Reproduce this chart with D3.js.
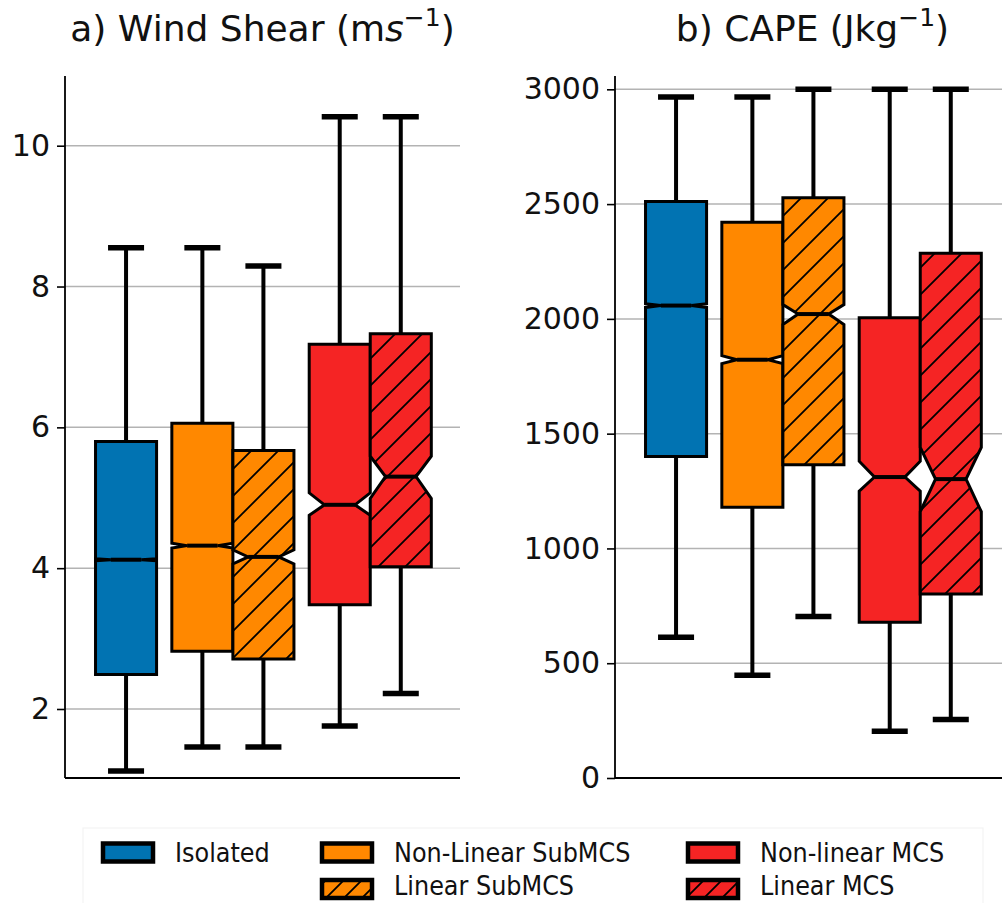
<!DOCTYPE html>
<html>
<head>
<meta charset="utf-8">
<script src="https://cdn.jsdelivr.net/npm/d3@7"></script>
<style>
  html, body { margin: 0; padding: 0; background: #fff; }
  svg { display: block; font-family: "DejaVu Sans", sans-serif; }
  .tick text { font-size: 30px; fill: #111; }
  .legend text { font-family: "DejaVu Sans Condensed", "DejaVu Sans", sans-serif; font-stretch: condensed; font-size: 26.6px; fill: #111; }
</style>
</head>
<body>
<script>
// Storm categories and their styling
const categories = ["Isolated", "Non-Linear SubMCS", "Linear SubMCS", "Non-linear MCS", "Linear MCS"];
const legendLabels = ["Isolated", "Non-Linear SubMCS", "Linear SubMCS", "Non-linear MCS", "Linear MCS"];
const fillColors = ["#0173b2", "#ff8800", "#ff8800", "#f52424", "#f52424"];
const hatched = [false, false, true, false, true];
const clusters = [[0], [1, 2], [3, 4]];

// a) Wind shear (m s^-1) box statistics
const shearWhiskerLow  = [1.12, 1.46, 1.46, 1.76, 2.22];
const shearQ1          = [2.49, 2.82, 2.71, 3.48, 4.02];
const shearMedian      = [4.12, 4.32, 4.16, 4.90, 5.30];
const shearQ3          = [5.80, 6.06, 5.67, 7.18, 7.33];
const shearWhiskerHigh = [8.55, 8.55, 8.29, 10.41, 10.41];
const shearNotchLow    = [4.105, 4.285, 4.06, 4.75, 4.99];
const shearNotchHigh   = [4.135, 4.355, 4.26, 5.07, 5.59];
const shearTicks = [2, 4, 6, 8, 10];

// b) CAPE (J kg^-1) box statistics
const capeWhiskerLow  = [613, 448, 704, 204, 255];
const capeQ1          = [1401, 1179, 1365, 678, 802];
const capeMedian      = [2058, 1822, 2021, 1311, 1302];
const capeQ3          = [2511, 2421, 2528, 2005, 2286];
const capeWhiskerHigh = [2966, 2966, 3000, 3000, 3000];
const capeNotchLow    = [2050, 1805, 1975, 1250, 1160];
const capeNotchHigh   = [2066, 1840, 2062, 1380, 1440];
const capeTicks = [0, 500, 1000, 1500, 2000, 2500, 3000];

const W = 1002, H = 903;
const svg = d3.select("body").append("svg").attr("width", W).attr("height", H);
svg.append("rect").attr("width", W).attr("height", H).attr("fill", "#fff");

// diagonal hatch pattern
const defs = svg.append("defs");
const hs = 27;
const pat = defs.append("pattern").attr("id", "hatch")
  .attr("patternUnits", "userSpaceOnUse").attr("width", hs).attr("height", hs);
pat.append("path")
  .attr("d", `M0,${hs} L${hs},0 M${-hs / 2},${hs / 2} L${hs / 2},${-hs / 2} M${hs / 2},${hs * 1.5} L${hs * 1.5},${hs / 2}`)
  .attr("stroke", "#000").attr("stroke-width", 1.8);
const patL = defs.append("pattern").attr("id", "hatchLegend")
  .attr("patternUnits", "userSpaceOnUse").attr("width", 18).attr("height", 18);
patL.append("path")
  .attr("d", "M0,18 L18,0 M-9,9 L9,-9 M9,27 L27,9")
  .attr("stroke", "#000").attr("stroke-width", 1.8);

// box positions: adjacent boxes inside a cluster, a small gap between clusters
const positions = [];
{
  let p = 0;
  clusters.forEach((c, ci) => {
    if (ci > 0) p += 0.25;
    c.forEach(() => { positions.push(p); p += 1; });
  });
}

function drawPanel(opts) {
  const { left, right, top, bottom, yDomain, ticks, title, stats } = opts;
  const g = svg.append("g");
  const x = d3.scaleLinear().domain([-1, 5.47]).range([left, right]);
  const y = d3.scaleLinear().domain(yDomain).range([bottom, top]);
  const clipId = "clip" + Math.round(left);
  defs.append("clipPath").attr("id", clipId).append("rect")
    .attr("x", left).attr("y", 0).attr("width", right - left).attr("height", H);

  // grid
  g.append("g").selectAll("line").data(ticks).join("line")
    .attr("x1", left).attr("x2", Math.min(right, W))
    .attr("y1", d => y(d)).attr("y2", d => y(d))
    .attr("stroke", "#b3b3b3").attr("stroke-width", 1.5);

  // axis
  const ax = g.append("g").attr("transform", `translate(${left},0)`)
    .call(d3.axisLeft(y).tickValues(ticks).tickSize(8).tickPadding(7).tickFormat(d3.format("d")));
  ax.select(".domain").remove();
  ax.selectAll(".tick line").attr("stroke", "#000").attr("stroke-width", 1.6);
  ax.selectAll(".tick text").attr("font-family", "DejaVu Sans");

  // spines
  g.append("line").attr("x1", left).attr("x2", left).attr("y1", top).attr("y2", bottom)
    .attr("stroke", "#000").attr("stroke-width", 1.8);
  g.append("line").attr("x1", left).attr("x2", right).attr("y1", bottom).attr("y2", bottom)
    .attr("stroke", "#000").attr("stroke-width", 1.8);

  const boxes = g.append("g").attr("clip-path", `url(#${clipId})`);
  const bw = 1.0;
  categories.forEach((c, i) => {
    const p = positions[i];
    const xl = x(p - bw / 2), xr = x(p + bw / 2);
    const wl = x(p - bw / 4), wr = x(p + bw / 4);
    const xc = x(p);
    const q1 = y(stats.q1[i]), q3 = y(stats.q3[i]), md = y(stats.median[i]);
    const nlo = y(stats.notchLow[i]), nhi = y(stats.notchHigh[i]);
    const lo = y(stats.low[i]), hi = y(stats.high[i]);

    // whiskers
    boxes.append("line").attr("x1", xc).attr("x2", xc).attr("y1", q1).attr("y2", lo)
      .attr("stroke", "#000").attr("stroke-width", 4);
    boxes.append("line").attr("x1", xc).attr("x2", xc).attr("y1", q3).attr("y2", hi)
      .attr("stroke", "#000").attr("stroke-width", 4);
    // caps
    [lo, hi].forEach(yy => {
      boxes.append("line").attr("x1", x(p - bw / 4)).attr("x2", x(p + bw / 4))
        .attr("y1", yy).attr("y2", yy)
        .attr("stroke", "#000").attr("stroke-width", 5.5).attr("stroke-linecap", "square");
    });

    // notched box
    const pts = [[xl, q1], [xr, q1], [xr, nlo], [wr, md], [xr, nhi], [xr, q3],
                 [xl, q3], [xl, nhi], [wl, md], [xl, nlo]];
    const d = "M" + pts.map(pt => pt.join(",")).join("L") + "Z";
    boxes.append("path").attr("d", d).attr("fill", fillColors[i]);
    if (hatched[i]) boxes.append("path").attr("d", d).attr("fill", "url(#hatch)");
    boxes.append("path").attr("d", d).attr("fill", "none")
      .attr("stroke", "#000").attr("stroke-width", 3).attr("stroke-linejoin", "miter");
    // median
    boxes.append("line").attr("x1", wl).attr("x2", wr).attr("y1", md).attr("y2", md)
      .attr("stroke", "#000").attr("stroke-width", 4);
  });

  // title
  const t = svg.append("text").attr("x", (left + right) / 2).attr("y", 41)
    .attr("text-anchor", "middle").attr("font-size", 36).attr("fill", "#111");
  title(t);
}

drawPanel({
  left: 65, right: 460, top: 76, bottom: 778,
  yDomain: [1.02, 10.99], ticks: shearTicks,
  stats: { low: shearWhiskerLow, q1: shearQ1, median: shearMedian, q3: shearQ3, high: shearWhiskerHigh,
           notchLow: shearNotchLow, notchHigh: shearNotchHigh },
  title: t => {
    t.append("tspan").text("a) Wind Shear (m");
    t.append("tspan").attr("font-style", "italic").text("s");
    t.append("tspan").attr("font-size", 25).attr("dy", -15).text("\u22121");
    t.append("tspan").attr("dy", 15).text(")");
  }
});

drawPanel({
  left: 615, right: 1010, top: 76, bottom: 778,
  yDomain: [0, 3058], ticks: capeTicks,
  stats: { low: capeWhiskerLow, q1: capeQ1, median: capeMedian, q3: capeQ3, high: capeWhiskerHigh,
           notchLow: capeNotchLow, notchHigh: capeNotchHigh },
  title: t => {
    t.append("tspan").text("b) CAPE (Jkg");
    t.append("tspan").attr("font-size", 25).attr("dy", -15).text("\u22121");
    t.append("tspan").attr("dy", 15).text(")");
  }
});

// legend
const legend = svg.append("g").attr("class", "legend");
legend.append("rect").attr("x", 83).attr("y", 828).attr("width", 900).attr("height", 90)
  .attr("fill", "none").attr("stroke", "#f3f3f3").attr("stroke-width", 1.2);
const legendSlots = [
  { col: 0, row: 0 }, { col: 1, row: 0 }, { col: 1, row: 1 }, { col: 2, row: 0 }, { col: 2, row: 1 }
];
const colX = [101, 320, 686];
const rowY = [852.5, 889];
const rowTextY = [852.5, 885.5];
legendLabels.forEach((lab, i) => {
  const s = legendSlots[i];
  const gx = colX[s.col], gy = rowY[s.row];
  legend.append("rect").attr("x", gx + 2).attr("y", gy - 9).attr("width", 50).attr("height", 18)
    .attr("fill", fillColors[i]);
  if (hatched[i]) legend.append("rect").attr("x", gx + 2).attr("y", gy - 9).attr("width", 50).attr("height", 18)
    .attr("fill", "url(#hatchLegend)");
  legend.append("rect").attr("x", gx + 2).attr("y", gy - 9).attr("width", 50).attr("height", 18)
    .attr("fill", "none").attr("stroke", "#000").attr("stroke-width", 4.5);
  legend.append("text").attr("x", gx + 74).attr("y", rowTextY[s.row]).attr("dy", "0.36em").text(lab);
});
</script>
</body>
</html>
